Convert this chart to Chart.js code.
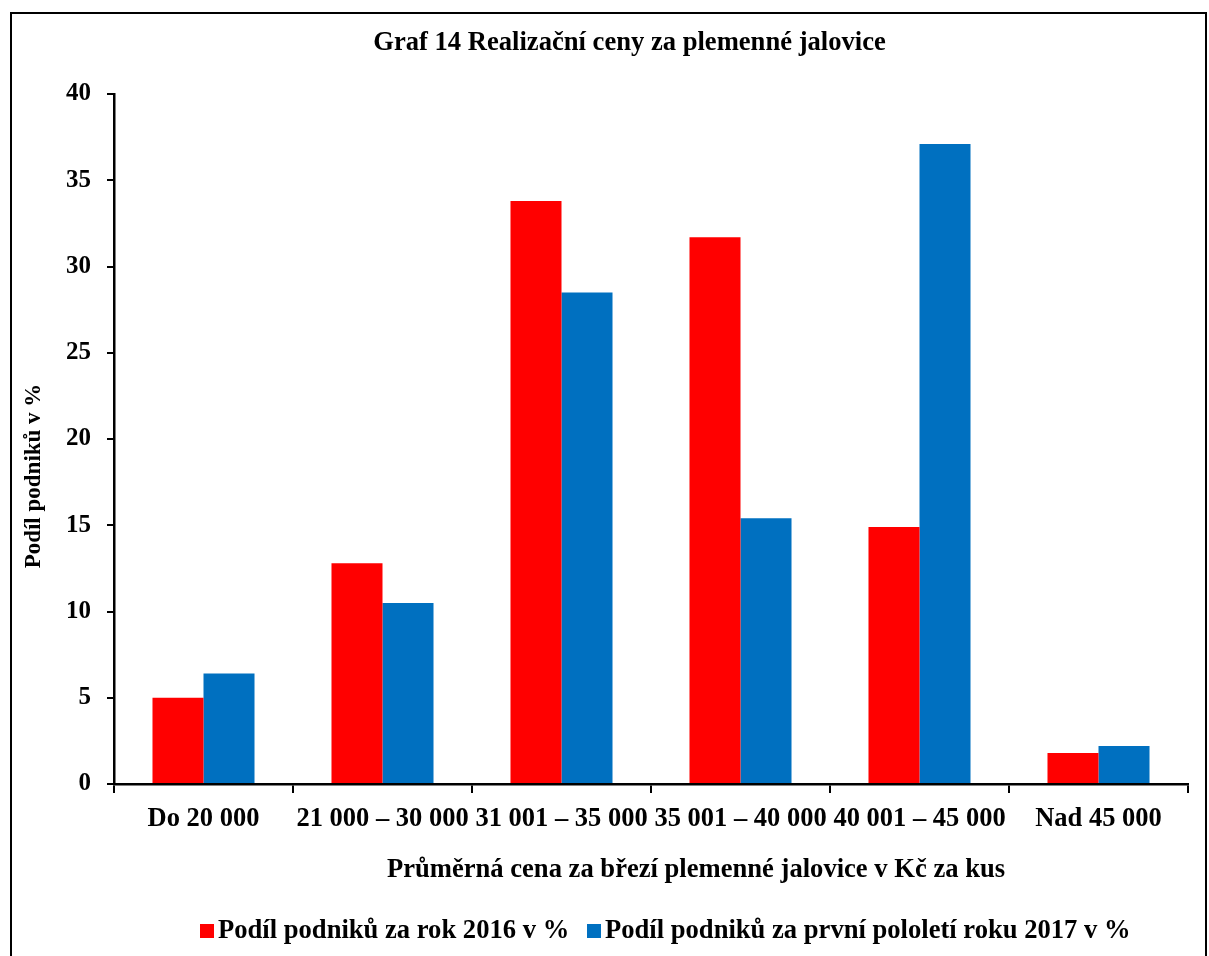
<!DOCTYPE html>
<html>
<head>
<meta charset="utf-8">
<script src="https://cdn.jsdelivr.net/npm/chart.js@4"></script>
<style>
  html, body { margin: 0; padding: 0; background: #fff; }
  #frame { position: absolute; left: 10px; top: 12px; width: 1197px; height: 960px; border: 2px solid #000; box-sizing: border-box; }
  #wrap { position: absolute; left: 0; top: 0; width: 1209px; height: 956px; }
</style>
</head>
<body>
<div id="frame"></div>
<div id="wrap"><canvas id="c" width="1209" height="956"></canvas></div>
<script>
// Price bands (CZK per head)
const categories = ['Do 20 000', '21 000 – 30 000', '31 001 – 35 000', '35 001 – 40 000', '40 001 – 45 000', 'Nad 45 000'];
// Share of farms, %
const share2016 = [5.0, 12.8, 33.8, 31.7, 14.9, 1.8];
const share2017H1 = [6.4, 10.5, 28.5, 15.4, 37.1, 2.2];
const seriesNames = ['Podíl podniků za rok 2016 v %', 'Podíl podniků za první pololetí roku 2017 v %'];
const yTicks = [0, 5, 10, 15, 20, 25, 30, 35, 40];

const chartTitle = 'Graf 14 Realizační ceny za plemenné jalovice';
const xTitle = 'Průměrná cena za březí plemenné jalovice v Kč za kus';
const yTitle = 'Podíl podniků v %';

const FONT = '"Liberation Serif", "Times New Roman", serif';
const RED = '#FF0000';
const BLUE = '#0070C0';

// Title, axis titles and legend drawn at fixed spots on the canvas
const textLayer = {
  id: 'textLayer',
  afterDraw(chart) {
    const ctx = chart.ctx;
    ctx.save();
    ctx.fillStyle = '#000';
    ctx.textBaseline = 'middle';
    ctx.textAlign = 'center';

    ctx.font = 'bold 26.6px ' + FONT;
    ctx.fillText(chartTitle, 629.5, 43);

    ctx.font = 'bold 26.6px ' + FONT;
    ctx.fillText(xTitle, 696, 870);

    ctx.save();
    ctx.translate(34, 476);
    ctx.rotate(-Math.PI / 2);
    ctx.font = 'bold 23px ' + FONT;
    ctx.fillText(yTitle, 0, 0);
    ctx.restore();

    // legend
    ctx.font = 'bold 26.6px ' + FONT;
    ctx.textAlign = 'left';
    const colors = [RED, BLUE];
    const boxX = [200, 587];
    const ly = 931;
    for (let i = 0; i < 2; i++) {
      ctx.fillStyle = colors[i];
      ctx.fillRect(boxX[i], ly - 7, 14, 14);
      ctx.fillStyle = '#000';
      ctx.fillText(seriesNames[i], boxX[i] + 18, ly);
    }
    ctx.restore();
  }
};

new Chart(document.getElementById('c'), {
  type: 'bar',
  data: {
    labels: categories,
    datasets: [
      { label: seriesNames[0], data: share2016, backgroundColor: RED, borderWidth: 0 },
      { label: seriesNames[1], data: share2017H1, backgroundColor: BLUE, borderWidth: 0 }
    ]
  },
  options: {
    responsive: false,
    animation: false,
    devicePixelRatio: 1,
    layout: { padding: { left: 0, right: 21, top: 94, bottom: 0 } },
    datasets: { bar: { categoryPercentage: 0.57, barPercentage: 1.0 } },
    plugins: {
      legend: { display: false },
      title: { display: false },
      tooltip: { enabled: false }
    },
    scales: {
      x: {
        afterFit(scale) { scale.height = 172; },
        grid: { display: true, offset: true, drawOnChartArea: false, drawTicks: true, tickLength: 9, color: '#000', lineWidth: 2 },
        border: { display: true, color: '#000', width: 2.5 },
        ticks: { color: '#000', font: { family: FONT, size: 26.5, weight: 'bold' }, padding: 10, maxRotation: 0, autoSkip: false }
      },
      y: {
        min: 0,
        max: 40,
        afterFit(scale) { scale.width = 114; },
        afterBuildTicks(scale) { scale.ticks = yTicks.map(v => ({ value: v })); },
        grid: { display: true, drawOnChartArea: false, drawTicks: true, tickLength: 7, color: '#000', lineWidth: 2 },
        border: { display: true, color: '#000', width: 2.5 },
        ticks: { color: '#000', font: { family: FONT, size: 25, weight: 'bold' }, padding: 16 }
      }
    }
  },
  plugins: [textLayer]
});
</script>
</body>
</html>
